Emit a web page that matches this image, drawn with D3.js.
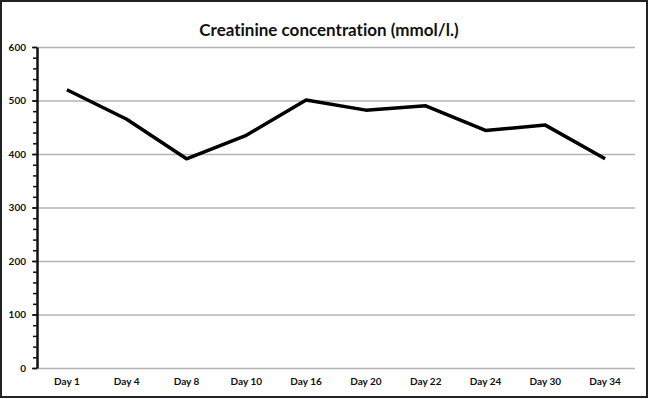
<!DOCTYPE html>
<html>
<head>
<meta charset="utf-8">
<script src="https://cdn.jsdelivr.net/npm/d3@7"></script>
<style>
  body { margin: 0; background: #fff; }
  text { font-family: Lato, "Open Sans", sans-serif; font-weight: bold; fill: #111; font-variant-ligatures: none; }
  .grid line { stroke: #b4b4b4; stroke-width: 1.5; }
  .grid path { display: none; }
</style>
</head>
<body>
<svg id="chart" width="650" height="399"></svg>
<script>
// data
const days = ['Day 1', 'Day 4', 'Day 8', 'Day 10', 'Day 16', 'Day 20', 'Day 22', 'Day 24', 'Day 30', 'Day 34'];
const creatinine = [520, 465, 391, 435, 501, 482, 490, 444, 454, 391];
const yTicks = [0, 100, 200, 300, 400, 500, 600];
const title = 'Creatinine concentration (mmol/l.)';

const svg = d3.select('#chart');
const width = +svg.attr('width');
const height = +svg.attr('height');
const margins = {left: 37, top: 47, right: 15, bottom: 31};
const chartWidth = width - margins.left - margins.right;
const chartHeight = height - margins.top - margins.bottom;

// outer frame
svg.append('rect')
   .attr('x', 1).attr('y', 1)
   .attr('width', width - 4).attr('height', height - 3)
   .attr('fill', 'none')
   .attr('stroke', '#222')
   .attr('stroke-width', 2);

svg.append('text')
   .attr('x', 329).attr('y', 36)
   .attr('text-anchor', 'middle')
   .attr('font-size', 17)
   .text(title);

const xScale = d3.scaleBand().domain(days).range([0, chartWidth]);
const yScale = d3.scaleLinear().domain([0, 600]).range([chartHeight, 0]);

const chart = svg.append('g')
   .attr('transform', `translate(${margins.left}, ${margins.top})`);

// gridlines
chart.append('g')
   .attr('class', 'grid')
   .call(d3.axisLeft(yScale).tickValues(yTicks).tickSize(-chartWidth).tickFormat(''));

// y axis with minor ticks
const minorTicks = d3.range(0, 601, 20);
chart.append('g')
   .call(d3.axisLeft(yScale).tickValues(minorTicks).tickSize(4).tickFormat(''))
   .call(g => g.selectAll('line').attr('stroke', '#111').attr('stroke-width', 1.5))
   .call(g => g.select('.domain').remove());

const yAxisG = chart.append('g')
   .call(d3.axisLeft(yScale).tickValues(yTicks).tickSize(5).tickSizeOuter(0).tickPadding(6));
yAxisG.select('.domain').attr('stroke', '#111').attr('stroke-width', 2.5);
yAxisG.selectAll('line').attr('stroke', '#111').attr('stroke-width', 1.5);
yAxisG.selectAll('text').attr('font-size', 10).style('font-family', 'Lato, sans-serif').style('font-weight', 'bold');

// x axis labels
const xAxisG = chart.append('g')
   .attr('transform', `translate(0, ${chartHeight})`)
   .call(d3.axisBottom(xScale).tickSize(0).tickPadding(10));
xAxisG.select('.domain').remove();
xAxisG.selectAll('text').attr('font-size', 10).style('font-family', 'Lato, sans-serif').style('font-weight', 'bold');

// line
const line = d3.line()
   .x((d, i) => xScale(days[i]) + xScale.bandwidth() / 2)
   .y(d => yScale(d));

chart.append('path')
   .datum(creatinine)
   .attr('d', line)
   .attr('fill', 'none')
   .attr('stroke', '#000')
   .attr('stroke-width', 3.5)
   .attr('stroke-linejoin', 'round');
</script>
</body>
</html>
